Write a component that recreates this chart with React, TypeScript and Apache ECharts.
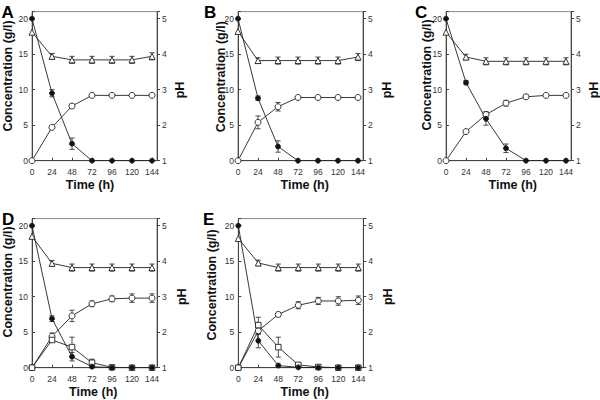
import React, { useEffect, useRef } from "react";
import * as echarts from "echarts";

// ---- data ----
const TIME = [0, 24, 48, 72, 96, 120, 144];
const PANEL_LABELS = ["A", "B", "C", "D", "E"];

// filled circles (substrate, g/l)
const SUB_A = [20, 9.5, 2.4, 0, 0, 0, 0];
const SUB_B = [20, 8.8, 2.0, 0, 0, 0, 0];
const SUB_C = [20, 11.0, 5.9, 1.75, 0, 0, 0];
const SUB_D = [20, 6.9, 1.55, 0.15, 0, 0, 0];
const SUB_E = [20, 3.8, 0.3, 0.05, 0, 0, 0];
const SUB_ERR_A = [0, 0.5, 0.8, 0, 0, 0, 0];
const SUB_ERR_B = [0, 0.3, 0.8, 0, 0, 0, 0];
const SUB_ERR_C = [0, 0.3, 0.9, 0.6, 0, 0, 0];
const SUB_ERR_D = [0, 0.4, 0.6, 0.2, 0, 0, 0];
const SUB_ERR_E = [0, 1.0, 0.2, 0, 0, 0, 0];

// open circles (product, g/l)
const PROD_A = [0, 4.7, 7.7, 9.2, 9.2, 9.2, 9.2];
const PROD_B = [0, 5.4, 7.6, 8.9, 8.9, 8.9, 8.9];
const PROD_C = [0, 4.1, 6.5, 8.1, 9.0, 9.2, 9.2];
const PROD_D = [0, 4.4, 7.3, 9.0, 9.7, 9.8, 9.8];
const PROD_E = [0, 5.2, 7.5, 8.8, 9.4, 9.4, 9.5];
const PROD_ERR_A = [0, 0.2, 0.3, 0.2, 0.2, 0.2, 0.2];
const PROD_ERR_B = [0, 0.9, 0.6, 0.2, 0.2, 0.2, 0.2];
const PROD_ERR_C = [0, 0.2, 0.4, 0.4, 0.3, 0.2, 0.2];
const PROD_ERR_D = [0, 0.5, 0.8, 0.4, 0.4, 0.6, 0.6];
const PROD_ERR_E = [0, 0.5, 0.3, 0.5, 0.5, 0.6, 0.6];

// open squares (by-product, g/l) – panels D and E only
const BYP_D = [0, 3.9, 2.9, 0.7, 0.05, 0, 0];
const BYP_E = [0, 6.0, 2.9, 0.4, 0.1, 0, 0];
const BYP_ERR_D = [0, 0.3, 1.4, 0.5, 0.1, 0, 0];
const BYP_ERR_E = [0, 1.1, 1.4, 0.2, 0, 0, 0];

// open triangles (pH)
const PH_A = [4.62, 3.94, 3.84, 3.84, 3.84, 3.84, 3.94];
const PH_B = [4.64, 3.82, 3.82, 3.82, 3.82, 3.82, 3.92];
const PH_C = [4.62, 3.92, 3.8, 3.8, 3.8, 3.8, 3.8];
const PH_D = [4.7, 3.94, 3.82, 3.82, 3.82, 3.82, 3.82];
const PH_E = [4.64, 3.95, 3.82, 3.82, 3.82, 3.82, 3.82];
const PH_ERR = [0, 0.08, 0.1, 0.1, 0.1, 0.1, 0.1];

const CONC_TICKS = [0, 5, 10, 15, 20];
const PH_TICKS = [1, 2, 3, 4, 5];

const FONT = "'Liberation Sans', Arial, Helvetica, sans-serif";
const INK = "#222";

type Panel = {
  label: string;
  sub: number[];
  subErr: number[];
  prod: number[];
  prodErr: number[];
  byp?: number[];
  bypErr?: number[];
  ph: number[];
  phErr: number[];
  // layout
  left: number;
  top: number;
  letter: [number, number];
  concName: [number, number];
  timeName: [number, number];
  phName: [number, number];
};

const PANELS: Panel[] = [
  { label: PANEL_LABELS[0], sub: SUB_A, subErr: SUB_ERR_A, prod: PROD_A, prodErr: PROD_ERR_A, ph: PH_A, phErr: PH_ERR,
    left: 32, top: 11.6, letter: [1.5, 12.5], concName: [8.3, 76], timeName: [90, 185], phName: [180, 90] },
  { label: PANEL_LABELS[1], sub: SUB_B, subErr: SUB_ERR_B, prod: PROD_B, prodErr: PROD_ERR_B, ph: PH_B, phErr: PH_ERR,
    left: 238, top: 11.6, letter: [204, 12.5], concName: [220.7, 76.7], timeName: [304.7, 185], phName: [386.7, 90] },
  { label: PANEL_LABELS[2], sub: SUB_C, subErr: SUB_ERR_C, prod: PROD_C, prodErr: PROD_ERR_C, ph: PH_C, phErr: PH_ERR,
    left: 446, top: 11.6, letter: [415, 12.5], concName: [426.7, 75], timeName: [512.8, 185], phName: [594, 90] },
  { label: PANEL_LABELS[3], sub: SUB_D, subErr: SUB_ERR_D, prod: PROD_D, prodErr: PROD_ERR_D, byp: BYP_D, bypErr: BYP_ERR_D, ph: PH_D, phErr: PH_ERR,
    left: 32, top: 218.6, letter: [2, 219], concName: [8.3, 282], timeName: [93.3, 391.7], phName: [181.7, 296.7] },
  { label: PANEL_LABELS[4], sub: SUB_E, subErr: SUB_ERR_E, prod: PROD_E, prodErr: PROD_ERR_E, byp: BYP_E, bypErr: BYP_ERR_E, ph: PH_E, phErr: PH_ERR,
    left: 238.3, top: 218.6, letter: [203, 219], concName: [211.7, 285], timeName: [304.7, 391.7], phName: [388.3, 296.7] },
];

const GRID_W = 125;
const GRID_H = 149.1;

function pairs(vals: number[]) {
  return TIME.map((t, k) => [t, vals[k]]);
}
function errTriples(vals: number[], errs: number[]) {
  return TIME.map((t, k) => [t, vals[k], errs[k]]).filter((d) => d[2] > 0);
}

function errorSeries(gi: number, yi: number, vals: number[], errs: number[]) {
  return {
    type: "custom",
    xAxisIndex: gi,
    yAxisIndex: yi,
    silent: true,
    z: 1,
    data: errTriples(vals, errs),
    renderItem: (_p: any, api: any) => {
      const x = api.value(0);
      const y = api.value(1);
      const e = api.value(2);
      const a = api.coord([x, y + e]);
      const b = api.coord([x, y - e]);
      const w = 2.6;
      const st = { stroke: INK, lineWidth: 0.8 };
      return {
        type: "group",
        children: [
          { type: "line", shape: { x1: a[0], y1: a[1], x2: b[0], y2: b[1] }, style: st },
          { type: "line", shape: { x1: a[0] - w, y1: a[1], x2: a[0] + w, y2: a[1] }, style: st },
          { type: "line", shape: { x1: b[0] - w, y1: b[1], x2: b[0] + w, y2: b[1] }, style: st },
        ],
      };
    },
  };
}

function lineSeries(gi: number, yi: number, vals: number[], symbol: string, size: number, filled: boolean) {
  return {
    type: "line",
    xAxisIndex: gi,
    yAxisIndex: yi,
    data: pairs(vals),
    symbol,
    symbolSize: size,
    showSymbol: true,
    z: 3,
    silent: true,
    lineStyle: { color: INK, width: 0.9 },
    itemStyle: { color: filled ? "#111" : "#fff", borderColor: INK, borderWidth: 0.9 },
  };
}

const labelStyle = { fontFamily: FONT, fontSize: 8.5, color: "#333" };
const axisLineStyle = { color: "#444", width: 1 };

export default function App() {
  const ref = useRef<HTMLDivElement>(null);
  useEffect(() => {
    if (!ref.current) return;
    const chart = echarts.init(ref.current, undefined, { renderer: "svg" });

    const grid = PANELS.map((p) => ({
      left: p.left,
      top: p.top,
      width: GRID_W,
      height: GRID_H,
      show: true,
      borderColor: "#888",
      borderWidth: 1,
      backgroundColor: "transparent",
      containLabel: false,
    }));

    const xAxis = PANELS.map((_p, i) => ({
      type: "value",
      gridIndex: i,
      min: 0,
      max: 150,
      interval: 24,
      axisLine: { show: true, onZero: false, lineStyle: axisLineStyle },
      axisTick: { show: true, inside: true, length: 3, lineStyle: axisLineStyle },
      axisLabel: {
        ...labelStyle,
        margin: 7,
        formatter: (v: number) => (TIME.indexOf(v) >= 0 ? String(v) : ""),
      },
      splitLine: { show: false },
    }));

    const yAxis: any[] = [];
    PANELS.forEach((_p, i) => {
      yAxis.push({
        type: "value",
        gridIndex: i,
        position: "left",
        min: 0,
        max: 21,
        interval: 5,
        axisLine: { show: true, onZero: false, lineStyle: axisLineStyle },
        axisTick: { show: true, inside: true, length: 3, lineStyle: axisLineStyle },
        axisLabel: {
          ...labelStyle,
          margin: 4,
          formatter: (v: number) => (CONC_TICKS.indexOf(v) >= 0 ? String(v) : ""),
        },
        splitLine: { show: false },
      });
      yAxis.push({
        type: "value",
        gridIndex: i,
        position: "right",
        min: 1,
        max: 5.2,
        interval: 1,
        axisLine: { show: true, onZero: false, lineStyle: axisLineStyle },
        axisTick: { show: true, inside: false, length: 3, lineStyle: axisLineStyle },
        axisLabel: {
          ...labelStyle,
          margin: 5,
          formatter: (v: number) => (PH_TICKS.indexOf(Math.round(v * 1000) / 1000) >= 0 ? String(v) : ""),
        },
        splitLine: { show: false },
      });
    });

    const series: any[] = [];
    PANELS.forEach((p, i) => {
      const yc = 2 * i;
      const yp = 2 * i + 1;
      series.push(errorSeries(i, yp, p.ph, p.phErr));
      series.push(errorSeries(i, yc, p.prod, p.prodErr));
      series.push(errorSeries(i, yc, p.sub, p.subErr));
      if (p.byp && p.bypErr) series.push(errorSeries(i, yc, p.byp, p.bypErr));
      series.push(lineSeries(i, yp, p.ph, "triangle", 6, false));
      series.push(lineSeries(i, yc, p.prod, "circle", 6, false));
      if (p.byp) series.push(lineSeries(i, yc, p.byp, "rect", 5.5, false));
      series.push(lineSeries(i, yc, p.sub, "circle", 5, true));
    });

    const graphic: any[] = [];
    PANELS.forEach((p) => {
      graphic.push({
        type: "text",
        x: p.letter[0],
        y: p.letter[1],
        style: { text: p.label, fontFamily: FONT, fontSize: 17, fontWeight: "bold", fill: "#000", textAlign: "left", textVerticalAlign: "middle" },
      });
      graphic.push({
        type: "text",
        x: p.concName[0],
        y: p.concName[1],
        rotation: Math.PI / 2,
        style: { text: "Concentration (g/l)", fontFamily: FONT, fontSize: 12.5, fontWeight: "bold", fill: "#111", textAlign: "center", textVerticalAlign: "middle" },
      });
      graphic.push({
        type: "text",
        x: p.timeName[0],
        y: p.timeName[1],
        style: { text: "Time (h)", fontFamily: FONT, fontSize: 12.5, fontWeight: "bold", fill: "#111", textAlign: "center", textVerticalAlign: "middle" },
      });
      graphic.push({
        type: "text",
        x: p.phName[0],
        y: p.phName[1],
        rotation: Math.PI / 2,
        style: { text: "pH", fontFamily: FONT, fontSize: 12.5, fontWeight: "bold", fill: "#111", textAlign: "center", textVerticalAlign: "middle" },
      });
    });

    chart.setOption({
      animation: false,
      backgroundColor: "#fff",
      grid,
      xAxis,
      yAxis,
      series,
      graphic,
    });
    return () => chart.dispose();
  }, []);

  return <div ref={ref} style={{ position: "fixed", left: 0, top: 0, width: 600, height: 400 }} />;
}
